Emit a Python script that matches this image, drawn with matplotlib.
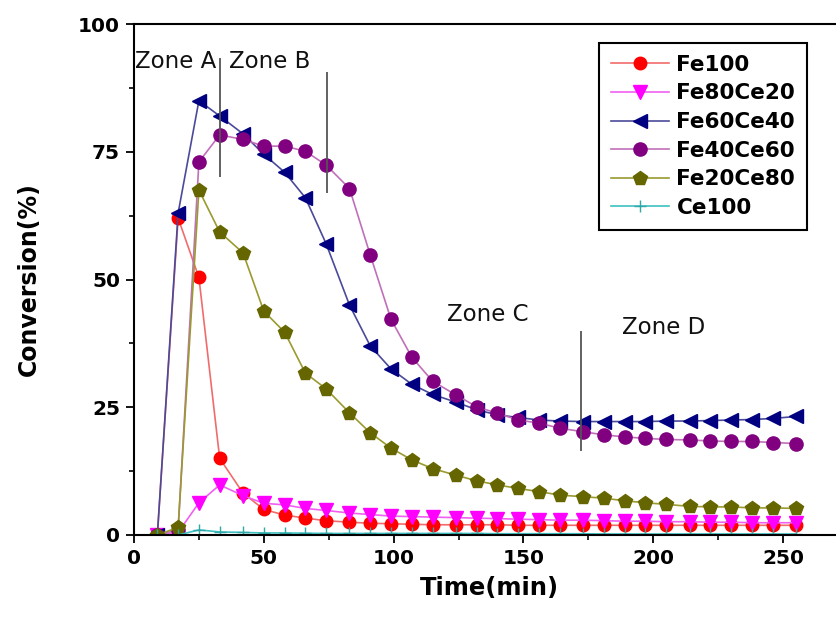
import matplotlib
matplotlib.use("Agg")
import matplotlib.pyplot as plt
from matplotlib.ticker import MultipleLocator

# time axis (min)
time = [9, 17, 25, 33, 42, 50, 58, 66, 74, 83, 91, 99, 107, 115, 124, 132,
        140, 148, 156, 164, 173, 181, 189, 197, 205, 214, 222, 230, 238, 246, 255]

fe100 = [0, 62, 50.4, 15, 8.2, 5.0, 3.9, 3.3, 2.8, 2.5, 2.3, 2.2, 2.1, 2.0, 2.0, 2.0,
         2.0, 1.9, 1.9, 1.9, 1.9, 1.9, 1.9, 1.9, 1.9, 1.9, 1.9, 1.9, 1.9, 1.9, 1.9]
fe80ce20 = [0, 0.5, 6.3, 9.8, 7.7, 6.2, 5.9, 5.2, 4.8, 4.3, 4.0, 3.7, 3.6, 3.5, 3.4, 3.3,
            3.2, 3.1, 3.0, 2.9, 2.9, 2.8, 2.7, 2.7, 2.6, 2.6, 2.5, 2.5, 2.4, 2.4, 2.4]
fe60ce40 = [0, 63, 85, 82, 78.5, 74.5, 71, 66, 57, 45, 37, 32.5, 29.5, 27.5, 26, 24.5,
            23.5, 23, 22.5, 22.3, 22.2, 22.2, 22.2, 22.2, 22.3, 22.3, 22.4, 22.5, 22.6, 22.8, 23.2]
fe40ce60 = [0, 1, 73, 78.3, 77.4, 76.1, 76.1, 75.1, 72.4, 67.8, 54.8, 42.2, 34.8, 30.1, 27.4, 25.1,
            23.8, 22.5, 21.9, 20.9, 20.2, 19.6, 19.2, 18.9, 18.7, 18.6, 18.4, 18.3, 18.3, 18.1, 17.9]
fe20ce80 = [0, 1.5, 67.5, 59.3, 55.2, 43.8, 39.7, 31.7, 28.6, 23.9, 20.0, 17.0, 14.7, 13.0, 11.7, 10.6,
            9.8, 9.1, 8.5, 7.8, 7.5, 7.2, 6.7, 6.3, 6.0, 5.6, 5.5, 5.5, 5.3, 5.3, 5.2]
ce100 = [0, 0, 1.0, 0.6, 0.5, 0.4, 0.4, 0.35, 0.3, 0.3, 0.3, 0.3, 0.3, 0.3, 0.3, 0.3,
         0.25, 0.25, 0.25, 0.25, 0.25, 0.2, 0.2, 0.2, 0.2, 0.2, 0.2, 0.2, 0.2, 0.2, 0.2]

labels = ["Fe100", "Fe80Ce20", "Fe60Ce40", "Fe40Ce60", "Fe20Ce80", "Ce100"]

# zone boundaries: (time, y bottom, y top)
zone_lines = [(33, 70, 93.3), (74.5, 67, 90.7), (172, 16.5, 40)]
zone_labels = ["Zone A", "Zone B", "Zone C", "Zone D"]
zone_pos = [(0.5, 92.6), (36.7, 92.6), (120.5, 43.2), (188, 40.7)]

series = [fe100, fe80ce20, fe60ce40, fe40ce60, fe20ce80, ce100]
styles = [
    dict(marker="o", mfc="#ff0000", mec="#ff0000", color="#f06c6c", ms=9),
    dict(marker="v", mfc="#ff00ff", mec="#ff00ff", color="#f060f0", ms=10),
    dict(marker="<", mfc="#000080", mec="#000080", color="#4a4a9a", ms=10),
    dict(marker="o", mfc="#800080", mec="#800080", color="#c070b8", ms=9.5),
    dict(marker="p", mfc="#666600", mec="#666600", color="#9a9a30", ms=10),
    dict(marker="+", mfc="#008080", mec="#30a8a8", color="#40c0c0", ms=8),
]

plt.rcParams['font.family'] = 'DejaVu Sans'

fig = plt.figure(figsize=(8.37, 6.19), dpi=100)
ax = fig.add_axes([134 / 837, 84 / 619, (837 - 134) / 837 + 0.01, 511 / 619])

for vals, lab, st in zip(series, labels, styles):
    ax.plot(time, vals, label=lab, lw=1.2, **st)

for x, y0, y1 in zone_lines:
    ax.vlines(x, y0, y1, color="#555555", lw=1.3)
for txt, (x, y) in zip(zone_labels, zone_pos):
    ax.text(x, y, txt, fontsize=16.5, ha="left", va="center", color="#111111")

ax.set_xlim(0, 274)
ax.set_ylim(0, 100)
ax.xaxis.set_major_locator(MultipleLocator(50))
ax.xaxis.set_minor_locator(MultipleLocator(25))
ax.yaxis.set_major_locator(MultipleLocator(25))
ax.yaxis.set_minor_locator(MultipleLocator(12.5))
ax.tick_params(which="major", direction="out", length=6, width=1.3, labelsize=14.5, pad=4)
ax.tick_params(which="minor", direction="out", length=3.5, width=1.2)
for lbl in ax.get_xticklabels() + ax.get_yticklabels():
    lbl.set_fontweight("bold")
ax.spines["right"].set_visible(False)
for s in ["left", "bottom", "top"]:
    ax.spines[s].set_linewidth(1.5)

ax.set_xlabel("Time(min)", fontsize=17.5, fontweight="bold", labelpad=6)
ax.set_ylabel("Conversion(%)", fontsize=17, fontweight="bold", labelpad=27)

leg = ax.legend(loc="upper left", bbox_to_anchor=(599 / 837, 1 - 43 / 619),
                bbox_transform=fig.transFigure, borderaxespad=0, fancybox=False,
                edgecolor="black", framealpha=1, fontsize=15.5, handlelength=2.7,
                handletextpad=0.35, labelspacing=0.4, borderpad=0.55)
leg.get_frame().set_linewidth(1.5)
for t in leg.get_texts():
    t.set_fontweight("bold")

fig.savefig("out.png", dpi=100)
